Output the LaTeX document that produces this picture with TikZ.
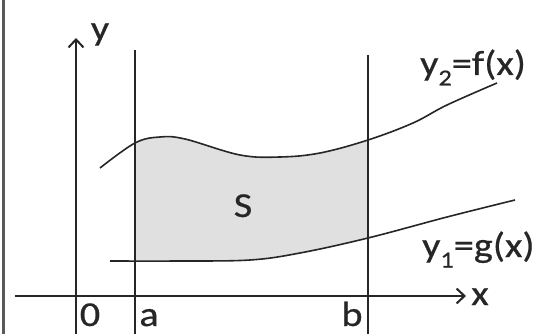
\documentclass[tikz,border=0pt]{standalone}
\usepackage{fontspec}
\setmainfont[FakeStretch=1.15,FakeBold=0.6]{Carlito}
\usetikzlibrary{arrows.meta}
\begin{document}
\begin{tikzpicture}[x=1pt,y=-1pt,
  axis/.style={line width=2pt,black!85},
  vline/.style={line width=2pt,black!85},
  curve/.style={line width=1.6pt,black!85},
  lbl/.style={font=\fontsize{35}{40}\selectfont,inner sep=0pt,text=black!85},
  tip/.style={-{Straight Barb[length=8pt,width=15pt,line width=2pt]}}]
\useasboundingbox (0,0) rectangle (560,334);
\fill[white] (0,0) rectangle (560,334);
% shaded region
\begin{scope}
  \clip (135,0) rectangle (368,334);
  \fill[black!12] plot[smooth,tension=0.6] coordinates {(100,168) (135,143) (160,137) (185,139) (240,155) (280,157) (320,153) (368,140) (413,123) (447,105) (497,83)}
    -- (515,200) -- plot[smooth,tension=0.6] coordinates {(515,200) (447,217) (368,238) (300,253) (250,260) (180,261) (110,261)} -- cycle;
\end{scope}
% frame edge
\draw[line width=3pt,black!65] (3,0) -- (3,334);
% named points
\coordinate (xs) at (15,296);
\coordinate (xe) at (466,296);
\coordinate (ys) at (76,334);
\coordinate (ye) at (76,38);
\coordinate (at) at (135,50);
\coordinate (ab) at (135,334);
\coordinate (bt) at (368,55);
\coordinate (bb) at (368,334);
% axes and verticals
\draw[axis,tip] (xs) -- (xe);
\draw[axis,tip] (ys) -- (ye);
\draw[vline] (at) -- (ab);
\draw[vline] (bt) -- (bb);
% curves
\draw[curve] plot[smooth,tension=0.6] coordinates {(100,168) (135,143) (160,137) (185,139) (240,155) (280,157) (320,153) (368,140) (413,123) (447,105) (497,83)};
\draw[curve] plot[smooth,tension=0.6] coordinates {(110,261) (180,261) (250,260) (300,253) (368,238) (447,217) (515,200)};
% labels
\node[lbl,anchor=base] (ylab) at (100,40) {y};
\node[lbl,anchor=base] (xlab) at (480,305) {x};
\node[lbl,anchor=base] (slab) at (243,217) {S};
\node[lbl,anchor=base] (olab) at (90,326) {0};
\node[lbl,anchor=base] (alab) at (149,326) {a};
\node[lbl,anchor=base] (blab) at (352,326) {b};
\node[lbl,anchor=base west] (flab) at (420,75) {y\raisebox{-0.3em}{\fontsize{23}{25}\selectfont 2}=f(x)};
\node[lbl,anchor=base west] (glab) at (422,257) {y\raisebox{-0.3em}{\fontsize{23}{25}\selectfont 1}=g(x)};
\end{tikzpicture}
\end{document}
